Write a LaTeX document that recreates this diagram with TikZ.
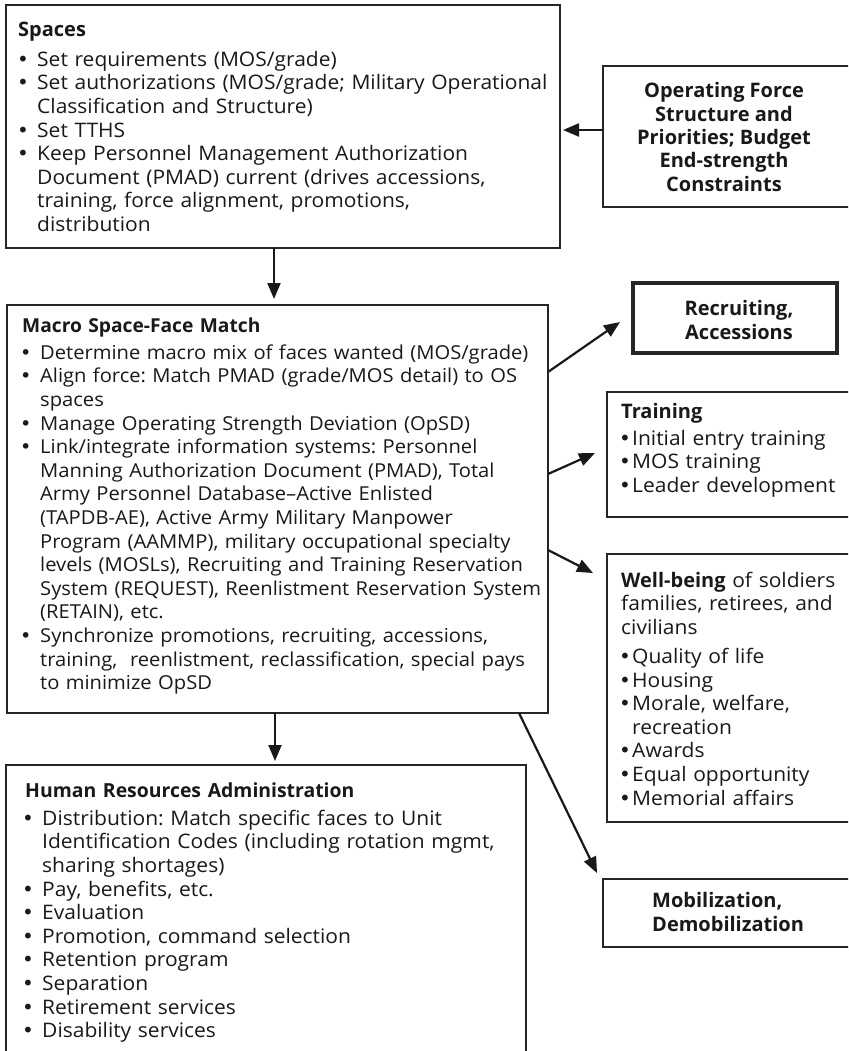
\documentclass[tikz,border=0pt]{standalone}
\usepackage{fontspec}
\setmainfont{Open Sans}[FakeStretch=1.05, BoldFeatures={FakeStretch=1.0}]
\newfontfamily\bulfont{DejaVu Sans}
\usetikzlibrary{arrows.meta,calc}
\frenchspacing

% bullet items with a hanging indent; continuation lines use \newline
\newlength\bind
\newlength\bshift
\newcommand\bitem[1]{\par\hangindent=\bind\hangafter=1\noindent\hbox to\bind{\hspace{\bshift}{\bulfont\char"2022}\hss}#1}

\tikzset{
  frame/.style={draw=black!85, line width=1.3pt, anchor=north west,
    inner sep=0pt, outer sep=0pt},
  boldframe/.style={frame, line width=4pt},
  txt/.style={anchor=north west, inner sep=0pt, align=left, text width=#1,
    font=\frenchspacing\fontsize{20}{23.6}\selectfont, text=black!90},
  ctxt/.style={inner sep=0pt, align=center,
    font=\bfseries\fontsize{20}{23.3}\selectfont, text=black!90},
  arr/.style={line width=2.2pt, draw=black!90,
    -{Triangle[length=16pt,width=13pt]}},
}

\begin{document}
\begin{tikzpicture}[x=1pt, y=-1pt]
\clip (0,0) rectangle (848,1051);
\fill[white] (0,0) rectangle (848,1051);

% ---------------- boxes ----------------
\node[frame, minimum width=554pt, minimum height=243pt] (spaces) at (6,5) {};
\node[frame, minimum width=280pt, minimum height=141pt] (ofs) at (603,66) {};
\node[frame, minimum width=541pt, minimum height=408pt] (macro) at (7,305) {};
\node[boldframe, minimum width=204pt, minimum height=70pt] (recr) at (633,283) {};
\node[frame, minimum width=280pt, minimum height=125pt] (train) at (607,392) {};
\node[frame, minimum width=280pt, minimum height=268pt] (well) at (607,554) {};
\node[frame, minimum width=280pt, minimum height=68pt] (mobil) at (603,879) {};
\node[frame, minimum width=520pt, minimum height=320pt] (hra) at (6,765) {};

% ---------------- texts ----------------
\setlength\bind{19pt}\setlength\bshift{-1pt}
\node[txt=600pt] (spacestxt) at (18,19.5) {\strut\textbf{Spaces}\par\vspace{6.5pt}
  \bitem{Set requirements (MOS/grade)}
  \bitem{Set authorizations (MOS/grade; Military Operational\newline Classification and Structure)}
  \bitem{Set TTHS}
  \bitem{Keep Personnel Management Authorization\newline Document (PMAD) current (drives accessions,\newline training, force alignment, promotions,\newline distribution}\par};

\node[ctxt] (ofstxt) at (724,137) {Operating Force\\Structure and\\Priorities; Budget\\End-strength\\Constraints};

\setlength\bind{18pt}\setlength\bshift{-2pt}
\node[txt=600pt, font=\frenchspacing\fontsize{19.2}{23.6}\selectfont] (macrotxt) at (22,315.5) {\strut\textbf{Macro Space-Face Match}\par\vspace{3.5pt}
  \bitem{Determine macro mix of faces wanted (MOS/grade)}
  \bitem{Align force: Match PMAD (grade/MOS detail) to OS\newline spaces}
  \bitem{Manage Operating Strength Deviation (OpSD)}
  \bitem{Link/integrate information systems: Personnel\newline Manning Authorization Document (PMAD), Total\newline Army Personnel Database--Active Enlisted\newline (TAPDB-AE), Active Army Military Manpower\newline Program (AAMMP), military occupational specialty\newline levels (MOSLs), Recruiting and Training Reservation\newline System (REQUEST), Reenlistment Reservation System\newline (RETAIN), etc.}
  \bitem{Synchronize promotions, recruiting, accessions,\newline training,\ \ reenlistment, reclassification, special pays\newline to minimize OpSD}\par};

\node[ctxt] (recrtxt) at (739,320) {Recruiting,\\Accessions};

\setlength\bind{11pt}\setlength\bshift{-2pt}
\node[txt=300pt] (traintxt) at (621,401.5) {\strut\textbf{Training}\par\vspace{3.5pt}
  \bitem{Initial entry training}
  \bitem{MOS training}
  \bitem{Leader development}\par};

\node[txt=300pt] (welltxt) at (621,570.5) {\strut\textbf{Well-being} of soldiers\newline families, retirees, and\newline civilians\par\vspace{5.5pt}
  \bitem{Quality of life}
  \bitem{Housing}
  \bitem{Morale, welfare,\newline recreation}
  \bitem{Awards}
  \bitem{Equal opportunity}
  \bitem{Memorial affairs}\par};

\node[txt=300pt, font=\bfseries\fontsize{20}{23.6}\selectfont] (mobiltxt) at (652,891) {\strut Mobilization,\newline Demobilization\par};

\setlength\bind{17pt}\setlength\bshift{-3pt}
\node[txt=600pt] (hratxt) at (25,780.5) {\strut{\fontsize{19.4}{23.6}\selectfont\textbf{Human Resources Administration}}\par\vspace{4.5pt}
  \bitem{Distribution: Match specific faces to Unit\newline Identification Codes (including rotation mgmt,\newline sharing shortages)}
  \bitem{Pay, benefits, etc.}
  \bitem{Evaluation}
  \bitem{Promotion, command selection}
  \bitem{Retention program}
  \bitem{Separation}
  \bitem{Retirement services}
  \bitem{Disability services}\par};

% ---------------- connectors ----------------
\coordinate (tiprecr) at (620,322);
\coordinate (tiptrain) at (595,453);
\coordinate (tipwell) at (593,573);
\coordinate (tipmobil) at (597,873);

\draw[arr, shorten >=3pt] (ofs.west |- 0,130) -- (spaces.east |- 0,130);
\draw[arr, shorten >=6pt] (spaces.south -| 274,0) -- (macro.north -| 274,0);
\draw[arr] (macro.east |- 0,372) -- (tiprecr);
\draw[arr] (macro.east |- 0,474) -- (tiptrain);
\draw[arr] (macro.east |- 0,550) -- (tipwell);
\draw[arr, shorten >=4pt] (macro.south -| 275,0) -- (hra.north -| 275,0);
\draw[arr] (macro.south -| 519,0) -- (tipmobil);
\end{tikzpicture}
\end{document}
